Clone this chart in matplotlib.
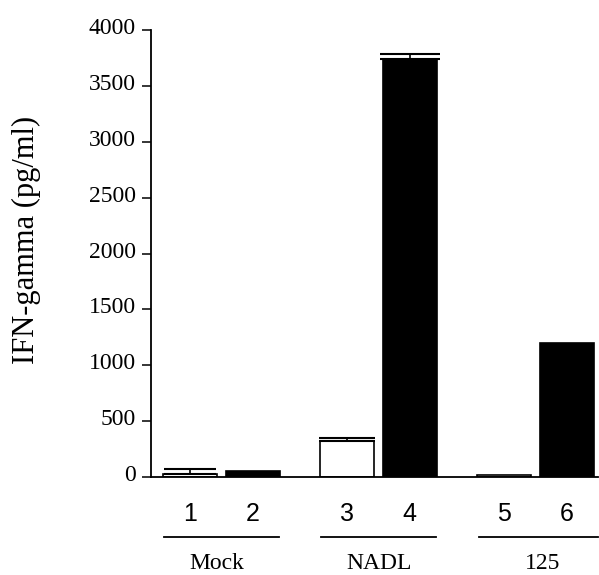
import matplotlib
matplotlib.use("Agg")
import matplotlib.pyplot as plt
from matplotlib.transforms import ScaledTranslation

# IFN-gamma secretion per condition
lanes = ["1", "2", "3", "4", "5", "6"]
groups = ["Mock", "NADL", "125"]
ifn_gamma = [25, 54, 325, 3740, 15, 1195]
ifn_err = [47, 0, 20, 45, 5, 0]
bar_fill = ["white", "black", "white", "black", "white", "black"]
cap_px = [26, 0, 28, 30, 0, 0]
yticks = [0, 500, 1000, 1500, 2000, 2500, 3000, 3500, 4000]

serif = ["Liberation Serif", "DejaVu Serif"]
sans = ["Liberation Sans", "DejaVu Sans"]

# lane positions: pairs of bars with wider gaps between groups
xpos = [0, 1, 2.5, 3.5, 5, 6]
group_span = [(-0.42, 1.42), (2.08, 3.92), (4.6, 6.5)]
group_center = [0.43, 3.02, 5.62]

fig = plt.figure(figsize=(5.99, 5.75), dpi=100)
ax = fig.add_axes([151 / 599, 1 - 477 / 575, 447 / 599, 447 / 575])

ax.bar(xpos, ifn_gamma, width=0.86, color=bar_fill, edgecolor="black",
       linewidth=1.2, zorder=2)
for x, v, e, c in zip(xpos, ifn_gamma, ifn_err, cap_px):
    if e > 0:
        ax.errorbar(x, v, yerr=[[0], [e]], fmt="none", ecolor="black",
                    elinewidth=1.2, capsize=c * 72 / 100,
                    capthick=1.5, zorder=3)

ax.set_xlim(-0.62, 6.5)
ax.set_ylim(0, 4000)
ax.set_yticks(yticks)
ax.set_yticklabels([str(t) for t in yticks], fontfamily=serif, fontsize=17)
ax.tick_params(axis="y", direction="out", length=6.5, width=1.1, pad=4.5)
lift = ScaledTranslation(0, 4 / 100, fig.dpi_scale_trans)
for lbl in ax.get_yticklabels():
    lbl.set_transform(lbl.get_transform() + lift)
ax.set_xticks([])
for side in ["top", "right"]:
    ax.spines[side].set_visible(False)
ax.spines["left"].set_linewidth(1.3)
ax.spines["bottom"].set_linewidth(1.3)

ax.set_ylabel("IFN-gamma (pg/ml)", fontfamily=serif, fontsize=22,
              va="center", ha="center")
ax.yaxis.set_label_coords(-(151 - 26) / 447, (477 - 240) / 447)

# lane numbers, group underlines and group names below the axis
for x, lab in zip(xpos, lanes):
    ax.text(x, -330, lab, ha="center", va="center", fontfamily=sans,
            fontsize=18, clip_on=False)
for (x0, x1), xc, g in zip(group_span, group_center, groups):
    ax.plot([x0, x1], [-540, -540], color="black", lw=1.3, clip_on=False)
    ax.text(xc, -825, g, ha="center", va="baseline", fontfamily=serif,
            fontsize=17, clip_on=False)

fig.savefig("out.png", dpi=100)
